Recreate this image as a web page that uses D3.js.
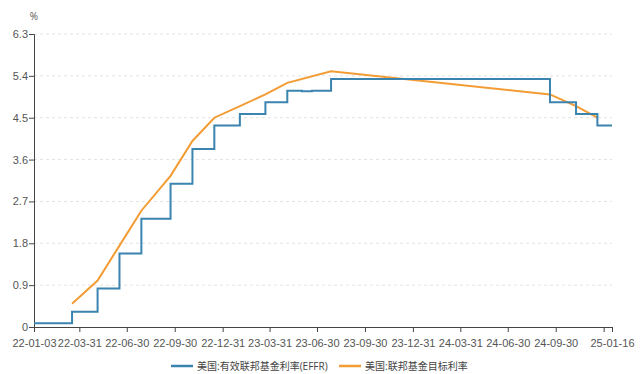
<!DOCTYPE html>
<html>
<head>
<meta charset="utf-8">
<script src="https://cdn.jsdelivr.net/npm/d3@7"></script>
<style>
  body { margin: 0; background: #fff; }
  svg { display: block; font-family: "Open Sans", "Noto Sans CJK SC", sans-serif; }
  .axis path, .axis line { stroke: #444; }
  .axis text { fill: #555; font-size: 11px; }
  .grid line { stroke: #e2e2e2; stroke-dasharray: 3,3; }
</style>
</head>
<body>
<script>
// SVG Size
var width = 640,
	height = 374;

// chart data
var effrDates = ["2022-01-03","2022-03-17","2022-05-05","2022-06-16","2022-07-28","2022-09-22","2022-11-03","2022-12-15",
	"2023-02-02","2023-03-23","2023-05-04","2023-06-01","2023-06-20","2023-07-27","2024-09-19","2024-11-08","2024-12-19","2025-01-16"];
var effrValues = [0.08,0.33,0.83,1.58,2.33,3.08,3.83,4.33,4.58,4.83,5.08,5.07,5.08,5.33,4.83,4.58,4.33,4.33];

var targetDates = ["2022-03-17","2022-05-05","2022-06-16","2022-07-28","2022-09-22","2022-11-03","2022-12-15",
	"2023-02-02","2023-03-23","2023-05-04","2023-07-27","2024-09-19","2024-11-08","2024-12-19"];
var targetValues = [0.5,1.0,1.75,2.5,3.25,4.0,4.5,4.75,5.0,5.25,5.5,5.0,4.75,4.5];

var yTicks = [0,0.9,1.8,2.7,3.6,4.5,5.4,6.3];
var xTickDates = ["2022-01-03","2022-03-31","2022-06-30","2022-09-30","2022-12-31","2023-03-31","2023-06-30",
	"2023-09-30","2023-12-31","2024-03-31","2024-06-30","2024-09-30","2024-12-31","2025-01-16"];
var hiddenLabels = ["2024-12-31"];

var seriesNames = ["美国:有效联邦基金利率(EFFR)", "美国:联邦基金目标利率"];
var colors = ["#3b84b0", "#f39c35"];

var parseDate = d3.timeParse("%Y-%m-%d");
var fmt = d3.timeFormat("%y-%m-%d");

var effr = effrDates.map(function(d, i){ return {date: parseDate(d), value: effrValues[i]}; });
var target = targetDates.map(function(d, i){ return {date: parseDate(d), value: targetValues[i]}; });

var margin = {top: 34, right: 28, bottom: 47, left: 34};

var svg = d3.select("body").append("svg")
	.attr("width", width)
	.attr("height", height);

var xScale = d3.scaleTime()
	.domain([parseDate("2022-01-03"), parseDate("2025-01-16")])
	.range([margin.left, width - margin.right]);
var yScale = d3.scaleLinear()
	.domain([0, 6.3])
	.range([height - margin.bottom, margin.top]);

// grid
svg.append("g")
	.attr("class", "grid")
	.selectAll("line")
	.data(yTicks.filter(function(d){ return d > 0; }))
	.enter()
	.append("line")
	.attr("x1", margin.left)
	.attr("x2", width - margin.right)
	.attr("y1", function(d){ return yScale(d); })
	.attr("y2", function(d){ return yScale(d); });

// axes
var xAxis = d3.axisBottom(xScale)
	.tickValues(xTickDates.map(parseDate))
	.tickSizeOuter(0)
	.tickSize(5)
	.tickFormat(function(d){
		return hiddenLabels.indexOf(d3.timeFormat("%Y-%m-%d")(d)) >= 0 ? "" : fmt(d);
	});
var yAxis = d3.axisLeft(yScale)
	.tickValues(yTicks)
	.tickSizeOuter(0)
	.tickSize(5)
	.tickPadding(1)
	.tickFormat(function(d){ return d === 0 ? "0" : d3.format(".1f")(d); });

svg.append("g")
	.attr("class", "axis")
	.attr("transform", "translate(0," + (height - margin.bottom) + ")")
	.call(xAxis)
	.selectAll("text").attr("dy", "1.05em");
svg.append("g")
	.attr("class", "axis")
	.attr("transform", "translate(" + margin.left + ",0)")
	.call(yAxis);

svg.append("text")
	.attr("x", 34)
	.attr("y", 20)
	.attr("text-anchor", "middle")
	.attr("fill", "#555")
	.style("font-size", "10px")
	.text("%");

// lines
var stepLine = d3.line()
	.x(function(d){ return xScale(d.date); })
	.y(function(d){ return yScale(d.value); })
	.curve(d3.curveStepAfter);
var straightLine = d3.line()
	.x(function(d){ return xScale(d.date); })
	.y(function(d){ return yScale(d.value); });

svg.append("path")
	.datum(target)
	.attr("fill", "none")
	.attr("stroke", colors[1])
	.attr("stroke-width", 2)
	.attr("d", straightLine);

svg.append("path")
	.datum(effr)
	.attr("fill", "none")
	.attr("stroke", colors[0])
	.attr("stroke-width", 2)
	.attr("d", stepLine);

// legend
var legendX = [171, 339];
var legend = svg.selectAll(".legend")
	.data(seriesNames)
	.enter()
	.append("g")
	.attr("class", "legend")
	.attr("transform", function(d, i){ return "translate(" + legendX[i] + ",366)"; });
legend.append("line")
	.attr("x1", 0).attr("x2", 22)
	.attr("stroke", function(d, i){ return colors[i]; })
	.attr("stroke-width", 2.5);
legend.append("text")
	.attr("x", 26)
	.attr("dy", "0.35em")
	.attr("fill", "#444")
	.style("font-size", "10px")
	.text(function(d){ return d; });
</script>
</body>
</html>
